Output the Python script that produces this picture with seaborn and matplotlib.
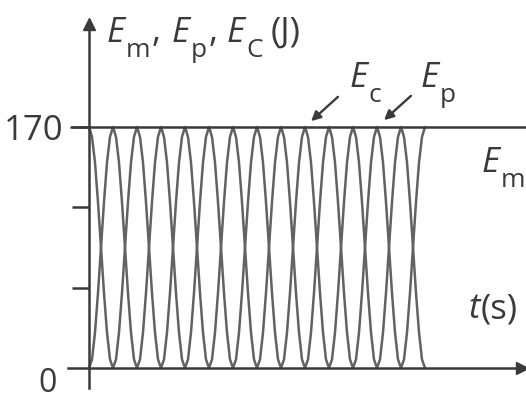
import numpy as np
import pandas as pd
import matplotlib
matplotlib.use("Agg")
import matplotlib.pyplot as plt
import seaborn as sns

# --- Dati ---
EM = 170                      # energia meccanica (J)
N_PERIODS = 7                 # oscillazioni complete visibili
# un periodo di Ep e Ec, 16 campioni
ep_period = [170, 163, 145, 117, 85, 53, 25, 6, 0, 6, 25, 53, 85, 117, 145, 163]
ec_period = [0, 6, 25, 53, 85, 117, 145, 163, 170, 163, 145, 117, 85, 53, 25, 6]
ytick_values = [EM / 3, 2 * EM / 3, EM]
ytick_labels = ["", "", "170"]

ep = np.append(np.tile(ep_period, N_PERIODS), ep_period[0])
ec = np.append(np.tile(ec_period, N_PERIODS), ec_period[0])
t = np.arange(len(ep)) / len(ep_period)

df = pd.concat([
    pd.DataFrame({"t": t, "E": ep, "serie": "Ep"}),
    pd.DataFrame({"t": t, "E": ec, "serie": "Ec"}),
])

sns.set_theme(style="white")
plt.rcParams["font.family"] = ["Open Sans", "DejaVu Sans"]

INK = "#3a3a3a"
CURVE = "#626262"
W, H = 526, 399
BIG, SMALL = 25, 19

fig = plt.figure(figsize=(W / 100, H / 100), dpi=100)
ax = fig.add_axes([0, 0, 1, 1])
ax.set_facecolor("white")

sns.lineplot(data=df, x="t", y="E", hue="serie", palette=[CURVE, CURVE],
             linewidth=1.8, legend=False, ax=ax, sort=False, estimator=None)

# retta Em
ax.hlines(EM, -0.4, 9.2, color=INK, linewidth=1.8)

ax.set_xlim(-1.854, 9.104)
ax.set_ylim(-21.9, 259.6)
ax.set_xlabel("")
ax.set_ylabel("")

# assi con frecce
for s in ["top", "right"]:
    ax.spines[s].set_visible(False)
ax.spines["left"].set_position(("data", 0))
ax.spines["bottom"].set_position(("data", 0))
ax.spines["left"].set_bounds(-14, 240)
ax.spines["bottom"].set_bounds(-0.44, 9.0)
for s in ["left", "bottom"]:
    ax.spines[s].set_color(INK)
    ax.spines[s].set_linewidth(1.8)
ax.plot(0, 243, marker="^", markersize=9, color=INK, clip_on=False)
ax.plot(9.03, 0, marker=">", markersize=9, color=INK, clip_on=False)

ax.set_xticks([])
ax.set_yticks(ytick_values)
ax.set_yticklabels(ytick_labels, fontsize=25, color=INK)
ax.tick_params(axis="y", direction="out", length=12.5, width=1.8, color=INK, pad=6, left=True)

renderer = fig.canvas.get_renderer()


def put(x, y, s, size=BIG, italic=False):
    # testo posizionato in pixel (origine in alto a sinistra), linea di base in y
    txt = fig.text(x / W, 1 - y / H, s, fontsize=size, color=INK, ha="left", va="baseline",
                   style="italic" if italic else "normal")
    return txt.get_window_extent(renderer).x1


def e_sub(x, y, sub, drop=15):
    x1 = put(x, y, "E", italic=True)
    return put(x1 + 1, y + drop, sub, size=SMALL)


# etichetta asse y
x1 = e_sub(107, 42, "m")
put(x1 + 1, 42, ",")
x1 = e_sub(172, 42, "p")
put(x1 + 1, 42, ",")
x1 = e_sub(227, 42, "C")
put(x1 + 8, 42, "(J)")

# etichette curve
e_sub(350, 87, "c")
e_sub(421, 87, "p")
e_sub(482, 172, "m")
x1 = put(468, 318, "t", italic=True)
put(x1 + 1, 318, "(s)")

fig.text(48 / W, 1 - 383 / H, "0", fontsize=23, color=INK, ha="center", va="center")

arrow = dict(arrowstyle="-|>", color=INK, lw=1.7, mutation_scale=14)
ax.annotate("", xy=(309 / W, 1 - 123 / H), xytext=(340 / W, 1 - 95 / H),
            xycoords="figure fraction", textcoords="figure fraction", arrowprops=arrow)
ax.annotate("", xy=(382 / W, 1 - 122 / H), xytext=(413 / W, 1 - 94 / H),
            xycoords="figure fraction", textcoords="figure fraction", arrowprops=arrow)

fig.savefig("out.png", dpi=100, facecolor="white")
